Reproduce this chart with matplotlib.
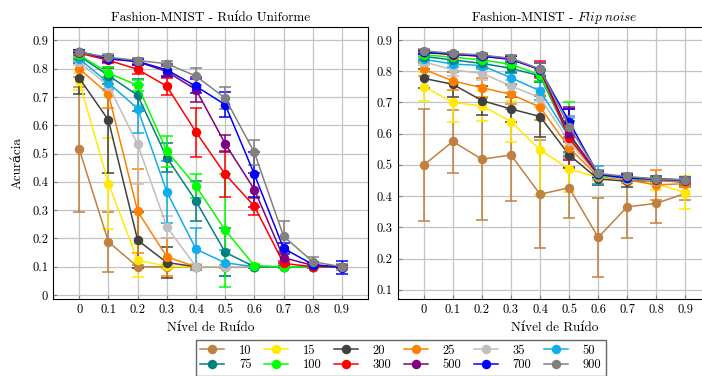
import numpy as np
import matplotlib
matplotlib.use('Agg')
import matplotlib.pyplot as plt

plt.rcParams['font.family'] = ['cmr10', 'DejaVu Serif']
plt.rcParams['mathtext.fontset'] = 'cm'
plt.rcParams['axes.formatter.use_mathtext'] = True

noise = [0, 0.1, 0.2, 0.3, 0.4, 0.5, 0.6, 0.7, 0.8, 0.9]
tick_labels = ['0', '0.1', '0.2', '0.3', '0.4', '0.5', '0.6', '0.7', '0.8', '0.9']
sizes = ['10', '15', '20', '25', '35', '50', '75', '100', '300', '500', '700', '900']
colors = ['#c08040', '#ffea00', '#404040', '#ff8000', '#bfbfbf', '#10aee8',
          '#008080', '#00ff00', '#ff0000', '#800080', '#0000ff', '#808080']

# uniform noise: mean accuracy per size (rows) and noise level (cols)
uni_mean = [
    [0.515, 0.188, 0.100, 0.100, 0.100, 0.100, 0.100, 0.100, 0.100, 0.100],
    [0.755, 0.394, 0.123, 0.102, 0.100, 0.100, 0.100, 0.100, 0.100, 0.100],
    [0.767, 0.618, 0.194, 0.115, 0.100, 0.100, 0.100, 0.100, 0.100, 0.100],
    [0.800, 0.710, 0.296, 0.135, 0.100, 0.100, 0.100, 0.100, 0.100, 0.100],
    [0.823, 0.740, 0.533, 0.241, 0.100, 0.100, 0.100, 0.100, 0.100, 0.100],
    [0.835, 0.750, 0.659, 0.365, 0.162, 0.114, 0.100, 0.100, 0.100, 0.100],
    [0.845, 0.776, 0.706, 0.486, 0.332, 0.151, 0.100, 0.100, 0.100, 0.100],
    [0.849, 0.785, 0.741, 0.509, 0.385, 0.229, 0.104, 0.100, 0.100, 0.100],
    [0.855, 0.830, 0.798, 0.738, 0.576, 0.427, 0.314, 0.112, 0.100, 0.100],
    [0.860, 0.835, 0.825, 0.790, 0.726, 0.535, 0.373, 0.132, 0.105, 0.100],
    [0.860, 0.836, 0.826, 0.796, 0.738, 0.673, 0.427, 0.165, 0.108, 0.097],
    [0.858, 0.841, 0.829, 0.818, 0.774, 0.696, 0.504, 0.208, 0.118, 0.100],
]
uni_err = [
    [0.220, 0.107, 0.005, 0.005, 0.005, 0.005, 0.005, 0.005, 0.005, 0.005],
    [0.030, 0.160, 0.058, 0.010, 0.005, 0.005, 0.005, 0.005, 0.005, 0.005],
    [0.055, 0.186, 0.100, 0.055, 0.005, 0.005, 0.005, 0.005, 0.005, 0.005],
    [0.030, 0.050, 0.148, 0.068, 0.005, 0.005, 0.005, 0.005, 0.005, 0.005],
    [0.010, 0.020, 0.140, 0.040, 0.010, 0.005, 0.005, 0.005, 0.005, 0.005],
    [0.010, 0.020, 0.085, 0.110, 0.075, 0.045, 0.005, 0.005, 0.005, 0.005],
    [0.010, 0.030, 0.056, 0.052, 0.070, 0.085, 0.005, 0.005, 0.005, 0.005],
    [0.010, 0.020, 0.020, 0.055, 0.042, 0.200, 0.005, 0.005, 0.005, 0.005],
    [0.005, 0.010, 0.015, 0.030, 0.087, 0.082, 0.030, 0.010, 0.005, 0.005],
    [0.005, 0.010, 0.010, 0.020, 0.045, 0.030, 0.060, 0.020, 0.005, 0.005],
    [0.005, 0.010, 0.010, 0.020, 0.025, 0.045, 0.080, 0.020, 0.010, 0.022],
    [0.005, 0.010, 0.010, 0.010, 0.030, 0.040, 0.045, 0.053, 0.015, 0.010],
]

# flip noise
flip_mean = [
    [0.500, 0.575, 0.518, 0.532, 0.406, 0.427, 0.268, 0.366, 0.377, 0.409],
    [0.751, 0.700, 0.689, 0.639, 0.548, 0.487, 0.460, 0.455, 0.440, 0.411],
    [0.777, 0.758, 0.706, 0.679, 0.655, 0.532, 0.455, 0.448, 0.450, 0.445],
    [0.806, 0.769, 0.747, 0.726, 0.685, 0.555, 0.462, 0.452, 0.436, 0.440],
    [0.830, 0.804, 0.793, 0.753, 0.715, 0.575, 0.465, 0.455, 0.450, 0.448],
    [0.838, 0.823, 0.818, 0.779, 0.737, 0.590, 0.468, 0.458, 0.452, 0.448],
    [0.847, 0.836, 0.825, 0.809, 0.785, 0.590, 0.468, 0.458, 0.452, 0.450],
    [0.852, 0.845, 0.836, 0.822, 0.788, 0.595, 0.468, 0.458, 0.452, 0.450],
    [0.860, 0.853, 0.848, 0.838, 0.805, 0.585, 0.470, 0.460, 0.453, 0.450],
    [0.862, 0.855, 0.850, 0.840, 0.806, 0.600, 0.470, 0.460, 0.455, 0.452],
    [0.860, 0.855, 0.848, 0.838, 0.805, 0.639, 0.470, 0.458, 0.455, 0.452],
    [0.865, 0.857, 0.852, 0.841, 0.807, 0.623, 0.473, 0.463, 0.455, 0.452],
]
flip_err = [
    [0.180, 0.100, 0.195, 0.148, 0.173, 0.096, 0.126, 0.100, 0.062, 0.020],
    [0.045, 0.062, 0.047, 0.067, 0.143, 0.073, 0.020, 0.015, 0.020, 0.053],
    [0.030, 0.040, 0.046, 0.040, 0.065, 0.040, 0.020, 0.020, 0.010, 0.010],
    [0.020, 0.030, 0.030, 0.030, 0.040, 0.030, 0.010, 0.010, 0.048, 0.010],
    [0.010, 0.020, 0.020, 0.020, 0.030, 0.040, 0.010, 0.010, 0.010, 0.010],
    [0.010, 0.010, 0.010, 0.020, 0.030, 0.060, 0.030, 0.010, 0.010, 0.010],
    [0.010, 0.010, 0.010, 0.015, 0.020, 0.050, 0.010, 0.010, 0.010, 0.010],
    [0.005, 0.010, 0.010, 0.010, 0.020, 0.105, 0.010, 0.010, 0.010, 0.010],
    [0.005, 0.005, 0.005, 0.010, 0.028, 0.095, 0.010, 0.010, 0.010, 0.010],
    [0.005, 0.005, 0.005, 0.010, 0.020, 0.085, 0.010, 0.010, 0.010, 0.010],
    [0.005, 0.005, 0.005, 0.010, 0.020, 0.040, 0.010, 0.010, 0.010, 0.010],
    [0.005, 0.005, 0.005, 0.010, 0.020, 0.035, 0.010, 0.010, 0.010, 0.010],
]

fig = plt.figure(figsize=(7.02, 3.76), dpi=100)
ax1 = fig.add_axes([0.0755, 0.204, 0.449, 0.723])
ax2 = fig.add_axes([0.5665, 0.204, 0.447, 0.723])


def draw(ax, means, errs, yticks, ylim, title):
    for i in range(len(sizes)):
        ax.errorbar(noise, means[i], yerr=errs[i], color=colors[i], marker='o',
                    ms=5.8, lw=1.1, elinewidth=1.1, capsize=4.5, capthick=1.1,
                    label=sizes[i])
    ax.set_xlim(-0.09, 0.99)
    ax.set_ylim(*ylim)
    ax.set_xticks(noise)
    ax.set_xticklabels(tick_labels)
    ax.set_yticks(yticks)
    ax.set_yticklabels(['0' if t == 0 else '%.1f' % t for t in yticks])
    ax.grid(True, color='#c4c4c4', lw=0.9)
    ax.set_axisbelow(True)
    ax.tick_params(direction='in', length=3, labelsize=9, color='#808080')
    for s in ax.spines.values():
        s.set_linewidth(0.8)
    ax.set_title(title, fontsize=9.5, pad=5)
    ax.set_xlabel('Nível de Ruído', fontsize=9.5, labelpad=4)


draw(ax1, uni_mean, uni_err, [0, 0.1, 0.2, 0.3, 0.4, 0.5, 0.6, 0.7, 0.8, 0.9],
     (-0.015, 0.946), 'Fashion-MNIST - Ruído Uniforme')
draw(ax2, flip_mean, flip_err, [0.1, 0.2, 0.3, 0.4, 0.5, 0.6, 0.7, 0.8, 0.9],
     (0.07, 0.94), r'Fashion-MNIST - $\mathit{Flip\ noise}$')
ax1.set_ylabel('Acurácia', fontsize=9.5, labelpad=6)

# matplotlib fills legend columns first; reorder so rows read 10..50, 75..900
handles, labels = ax1.get_legend_handles_labels()
handles = [h[0] for h in handles]
order = [0, 6, 1, 7, 2, 8, 3, 9, 4, 10, 5, 11]
fig.legend([handles[k] for k in order], [labels[k] for k in order], ncol=6,
           loc='upper center', bbox_to_anchor=(0.571, 0.112), fontsize=9,
           frameon=True, fancybox=False, edgecolor='#404040',
           handlelength=1.9, columnspacing=1.0, handletextpad=1.2,
           borderpad=0.35, labelspacing=0.2)

fig.savefig('out.png', dpi=100)
